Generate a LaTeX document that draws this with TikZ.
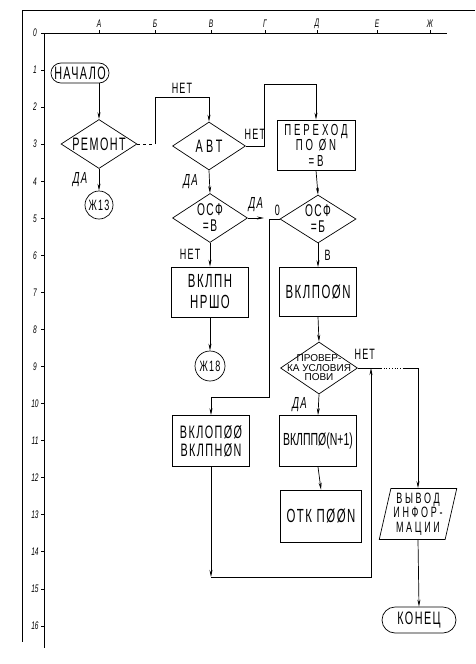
\documentclass[tikz,border=0pt]{standalone}
\usepackage{fontspec}
\setmainfont{Liberation Sans}[FakeStretch=0.6]
\newfontfamily\gost{Liberation Sans}[FakeStretch=0.6,LetterSpace=8]
\newfontfamily\gostwide{Liberation Sans}[FakeStretch=0.6,LetterSpace=18]
\newfontfamily\gostplain{Liberation Sans}
\usetikzlibrary{arrows.meta,shapes.geometric,shapes.misc}

\begin{document}
\begin{tikzpicture}[x=1pt, y=-1pt, line width=0.7pt,
  >={Stealth[length=7pt,width=3pt]},
  box/.style={draw, rectangle, inner sep=1pt, align=center,
    font=\gost\fontsize{19}{20}\selectfont},
  decision/.style={draw, diamond, aspect=1.5, inner sep=-7pt, align=center,
    font=\gost\fontsize{17}{16}\selectfont},
  term/.style={draw, rounded rectangle, inner sep=1pt,
    font=\gost\fontsize{18}{18}\selectfont},
  conn/.style={draw, circle, inner sep=0pt,
    font=\gost\fontsize{15}{15}\selectfont},
  io/.style={draw, trapezium, trapezium left angle=76, trapezium right angle=104,
    trapezium stretches=true, inner sep=0pt, align=center,
    font=\gostwide\fontsize{15}{14.5}\selectfont},
  lbl/.style={font=\gost\fontsize{15}{15}\selectfont},
  yes/.style={font=\gost\itshape\fontsize{16}{16}\selectfont},
  axis/.style={font=\itshape\fontsize{11}{11}\selectfont},
]
\useasboundingbox (0,0) rectangle (475,664);

% Frame
\draw (22,10) -- (475,10);
\draw (22,10) -- (22,642);
\draw (44,33) -- (447,33);
\draw (44,33) -- (44,648);
\foreach \x/\c in {99/А,155/Б,211/В,265/Г,317/Д,377/Е,430/Ж} {
  \draw (\x,33) -- (\x,30);
  \node[axis] at (\x,24) {\c};
}
\foreach \i in {0,...,16} {
  \draw (44,{33+37.06*\i}) -- (41,{33+37.06*\i});
  \node[axis] at (35,{33+37.06*\i}) {\i};
}

% Blocks
\node[term, minimum width=44pt, minimum height=20pt] (start) at (80,73) {НАЧАЛО};
\node[decision, minimum width=76pt, minimum height=49pt,
  font=\gost\fontsize{18}{18}\selectfont] (rem) at (99,144) {РЕМОНТ};
\node[conn, minimum size=28pt] (zh13) at (99,205) {Ж13};
\node[decision, minimum width=73pt, minimum height=48pt,
  font=\gostwide\fontsize{18}{18}\selectfont] (avt) at (209,146) {АВТ};
\node[decision, minimum width=75pt, minimum height=49pt] (osf1) at (210,218) {ОСФ\\=В};
\node[box, minimum width=77pt, minimum height=50pt,
  font=\gost\fontsize{19}{21}\selectfont] (vklpn) at (210,292) {ВКЛПН\\НРШО};
\node[conn, minimum size=30pt] (zh18) at (210,366) {Ж18};
\node[box, minimum width=77pt, minimum height=51pt,
  font=\gost\fontsize{18}{18}\selectfont] (vklop) at (211,441) {ВКЛОПØØ\\ВКЛПНØN};
\node[box, minimum width=78pt, minimum height=50pt,
  font=\gostwide\fontsize{16}{15.5}\selectfont] (perehod) at (316,145) {ПЕРЕХОД\\ПО ØN\\=В};
\node[decision, minimum width=76pt, minimum height=48pt] (osf2) at (318,219) {ОСФ\\=Б};
\node[box, minimum width=77pt, minimum height=49pt] (vklpo) at (318,292) {ВКЛПОØN};
\node[decision, minimum width=77pt, minimum height=52pt, inner sep=-10pt,
  font=\gostplain\fontsize{10}{9.5}\selectfont] (prov) at (319,368) {ПРОВЕР-\\КА УСЛОВИЯ\\ПОВИ};
\node[box, minimum width=77pt, minimum height=51pt,
  font=\fontsize{17.5}{18}\selectfont] (vklpp) at (318,441) {ВКЛППØ(N+1)};
\node[box, minimum width=81pt, minimum height=52pt] (otk) at (321,516) {ОТК ПØØN};
\node[io, minimum width=78pt, minimum height=51pt] (vyvod) at (418,514) {ВЫВОД\\ИНФОР-\\МАЦИИ};
\node[term, minimum width=76pt, minimum height=26pt] (konec) at (419,620) {КОНЕЦ};

% Connectors
\coordinate (c1) at (155,97);
\coordinate (c2) at (264,84);
\coordinate (c3) at (269,397);
\coordinate (c4) at (371,577);
\coordinate (d1) at (381,368);
\coordinate (d2) at (404,368);

\draw[->] (rem.north |- start.south) -- (rem.north);
\draw[->] (rem.south) -- node[yes, left=8pt] {ДА} (zh13.north);
\draw[dashed] (rem.east) -- (rem.east -| c1);
\draw[->] (rem.east -| c1) -- (c1) -| node[lbl, pos=0.25, above] {НЕТ} (avt.north);
\draw[->] (avt.east) -| node[lbl, pos=0.25, above=3pt] {НЕТ} (c2) -| (perehod.north);
\draw[->] (avt.south) -- node[yes, left=8pt] {ДА} (osf1.north);
\draw[->] (osf1.east) -- node[yes, above=3pt] {ДА} (osf1.east -| c2);
\draw[->] (osf1.south) -- node[lbl, left=6pt] {НЕТ} (vklpn.north);
\draw[->] (vklpn.south) -- (zh18.north);
\draw[->] (perehod.south) -- (osf2.north);
\draw[->] (osf2.west) node[lbl, anchor=south east, xshift=4pt] {0} -| (c3) -| (vklop.north);
\draw[->] (osf2.south) -- node[lbl, right=3pt] {В} (vklpo.north);
\draw[->] (vklpo.south) -- (prov.north);
\draw[->] (prov.south) -- node[yes, left=8pt] {ДА} (vklpp.north);
\draw[->] (vklpp.south) -- (otk.north);

% exit with break in the line
\draw (prov.east) -- node[lbl, pos=0.3, above=5pt] {НЕТ} (d1);
\draw[dotted] (d1) -- (d2);
\draw[->] (d2) -| (vyvod.north);
\draw[->] (vyvod.south) -- (konec.north);

% return loop
\draw[->] (vklop.south) -- (vklop.south |- c4);
\draw[->] (vklop.south |- c4) -- (c4) -- (c4 |- prov.east);

\end{tikzpicture}
\end{document}
